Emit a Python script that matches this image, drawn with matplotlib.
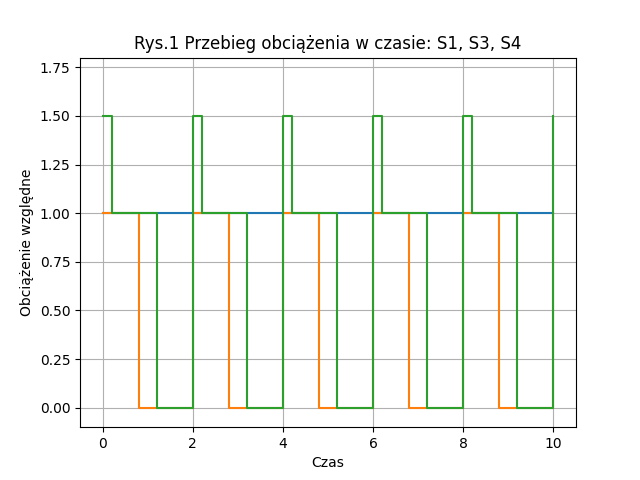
import matplotlib
matplotlib.use("Agg")
import matplotlib.pyplot as plt

# chwile przełączeń [s]
czas = [0, 0.2, 0.8, 1.2, 2, 2.2, 2.8, 3.2, 4, 4.2, 4.8, 5.2,
        6, 6.2, 6.8, 7.2, 8, 8.2, 8.8, 9.2, 10]

S1 = [1, 1, 1, 1, 1, 1, 1, 1, 1, 1, 1, 1,
      1, 1, 1, 1, 1, 1, 1, 1, 1]
S3 = [1, 1, 0, 0, 1, 1, 0, 0, 1, 1, 0, 0,
      1, 1, 0, 0, 1, 1, 0, 0, 1]
S4 = [1.5, 1, 1, 0, 1.5, 1, 1, 0, 1.5, 1, 1, 0,
      1.5, 1, 1, 0, 1.5, 1, 1, 0, 1.5]

fig = plt.figure(figsize=(6.4, 4.8), dpi=100)
plt.step(czas, S1, where='post')
plt.step(czas, S3, where='post')
plt.step(czas, S4, where='post')
plt.ylim(-0.1, 1.8)
plt.title('Rys.1 Przebieg obciążenia w czasie: S1, S3, S4')
plt.xlabel('Czas')
plt.ylabel('Obciążenie względne')
plt.grid(True)
plt.savefig('out.png')
